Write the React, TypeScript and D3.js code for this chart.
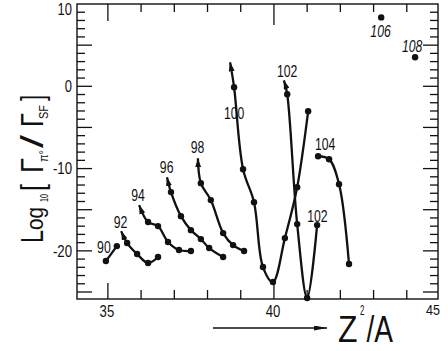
import React from 'react';
import * as d3 from 'd3';

// Z^2/A and log10(Gamma_pi0 / Gamma_SF), one pair per isotope
const n90z = [34.94, 35.27];
const n90r = [-21.24, -19.42];
const n92z = [35.40, 35.58, 35.88, 36.21, 36.51];
const n92r = [-17.6, -19.05, -20.39, -21.48, -20.75];
const n94z = [35.94, 36.21, 36.51, 36.81, 37.14, 37.5];
const n94r = [-14.44, -16.5, -16.99, -18.93, -19.9, -20.02];
const n96z = [36.78, 36.9, 37.2, 37.5, 37.8, 38.05, 38.47];
const n96r = [-11.04, -12.86, -15.78, -17.48, -18.57, -19.66, -20.75];
const n98z = [37.71, 37.8, 38.1, 38.47, 38.77, 39.1];
const n98r = [-8.74, -11.77, -13.83, -17.84, -19.3, -20.02];
const n100z = [38.68, 38.8, 39.07, 39.4, 39.67, 39.97, 40.33, 40.7, 41.03];
const n100r = [2.91, -0.12, -10.08, -14.08, -21.97, -23.79, -18.45, -12.26, -3.03];
const n102z = [40.3, 40.4, 40.7, 41.0, 41.3];
const n102r = [0.73, -0.97, -16.75, -25.73, -16.87];
const n104z = [41.33, 41.66, 41.96, 42.26];
const n104r = [-8.5, -8.86, -11.89, -21.6];
const n106z = [43.23];
const n106r = [8.37];
const n108z = [44.25];
const n108r = [3.52];

// curves that start with an arrow (first point is the arrow tip, no dot)
const arrowed = ['92', '94', '96', '98', '100', '102'];

// isotope labels and where they sit (data coordinates)
const labelText = ['90', '92', '94', '96', '98', '100', '102', '102', '104', '106', '108'];
const labelZ = [34.88, 35.38, 35.91, 36.77, 37.7, 38.8, 40.4, 41.31, 41.54, 43.21, 44.16];
const labelR = [-20.3, -17.25, -13.97, -10.57, -8.14, -4.0, 1.09, -16.5, -7.78, 5.95, 4.13];

const xTickLabels = ['35', '40', '45'];
const yTickLabels = ['10', '0', '-10', '-20'];

const W = 448;
const H = 351;
const FONT = "'Liberation Sans', Arial, sans-serif";
const INK = '#111';

const x = d3.scaleLinear().domain([34.07, 44.94]).range([77, 438]);
const y = d3.scaleLinear().domain([-25.85, 10]).range([299, 4]);

const series = [
  { name: '90', z: n90z, r: n90r },
  { name: '92', z: n92z, r: n92r },
  { name: '94', z: n94z, r: n94r },
  { name: '96', z: n96z, r: n96r },
  { name: '98', z: n98z, r: n98r },
  { name: '100', z: n100z, r: n100r },
  { name: '102', z: n102z, r: n102r },
  { name: '104', z: n104z, r: n104r },
  { name: '106', z: n106z, r: n106r },
  { name: '108', z: n108z, r: n108r },
];

const line = d3.line<[number, number]>()
  .x(d => x(d[0]))
  .y(d => y(d[1]))
  .curve(d3.curveCatmullRom.alpha(0.5));

// condensed look: squeeze text to a given width
const numWidth = (s: string, digit: number) =>
  s.split('').reduce((a, c) => a + (c === '-' ? digit * 0.65 : digit), 0);

function T(props: any) {
  const { len, size, children, ...rest } = props;
  return (
    <text fontFamily={FONT} fontSize={size} fill={INK} textLength={len}
      lengthAdjust="spacingAndGlyphs" {...rest}>{children}</text>
  );
}

export default function App() {
  const [x0, x1] = x.range();
  const [y0, y1] = y.range(); // y0 bottom, y1 top

  const xTicks = d3.range(35, 45);
  const yTicks = d3.range(-25, 10);

  return (
    <svg width={W} height={H} style={{ position: 'absolute', left: 0, top: 0, background: '#fff' }}>
      <defs>
        <marker id="arr" viewBox="0 0 10 10" refX="10" refY="5" markerUnits="userSpaceOnUse"
          markerWidth="9" markerHeight="6" preserveAspectRatio="none" orient="auto-start-reverse">
          <path d="M0,0 L10,5 L0,10 z" fill={INK} />
        </marker>
        <marker id="arrx" viewBox="0 0 10 10" refX="10" refY="5" markerUnits="userSpaceOnUse"
          markerWidth="13" markerHeight="5" preserveAspectRatio="none" orient="auto">
          <path d="M0,0 L10,5 L0,10 z" fill={INK} />
        </marker>
      </defs>

      {/* frame */}
      <rect x={x0} y={y1} width={x1 - x0} height={y0 - y1} fill="none" stroke={INK} strokeWidth={1.4} />

      {/* x ticks bottom and top */}
      {xTicks.map(t => {
        const long = t % 5 === 0;
        return (
          <g key={'xt' + t} stroke={INK} strokeWidth={1.3}>
            <line x1={x(t)} x2={x(t)} y1={y0} y2={y0 - (long ? 16 : 9)} />
            <line x1={x(t)} x2={x(t)} y1={y1} y2={y1 + (t === 40 ? 21 : t === 35 ? 17 : 8)} />
          </g>
        );
      })}

      {/* y ticks left and right */}
      {yTicks.map(t => {
        const long = t % 5 === 0;
        return (
          <g key={'yt' + t} stroke={INK} strokeWidth={1.3}>
            <line x1={x0} x2={x0 + (long ? 15 : 8)} y1={y(t)} y2={y(t)} />
            <line x1={x1} x2={x1 - (long ? 15 : 8)} y1={y(t)} y2={y(t)} />
          </g>
        );
      })}

      {/* tick labels */}
      {xTickLabels.map((s, i) => {
        const v = +s;
        const last = i === xTickLabels.length - 1;
        return (
          <T key={'xl' + s} x={last ? x1 + 2 : x(v) - 1} y={last ? 315 : 317}
            textAnchor={last ? 'end' : 'middle'} size={last ? 14 : 16}
            len={numWidth(s, last ? 7 : 7.3)}>{s}</T>
        );
      })}
      {yTickLabels.map(s => {
        const v = +s;
        const yy = Math.max(y(v), y1 + 5);
        return (
          <T key={'yl' + s} x={72} y={yy} dy="0.36em" textAnchor="end" size={16}
            len={numWidth(s, 7.2)}>{s}</T>
        );
      })}

      {/* curves */}
      {series.filter(s => s.z.length > 1).map(s => {
        const pts = s.z.map((z, i) => [z, s.r[i]] as [number, number]);
        return (
          <path key={'c' + s.name} d={line(pts) || ''} fill="none" stroke={INK} strokeWidth={2.3}
            strokeLinejoin="round" markerStart={arrowed.includes(s.name) ? 'url(#arr)' : undefined} />
        );
      })}

      {/* dots */}
      {series.map(s => s.z.map((z, i) => {
        if (i === 0 && arrowed.includes(s.name)) return null;
        return <circle key={'d' + s.name + i} cx={x(z)} cy={y(s.r[i])} r={3.2} fill={INK} />;
      }))}

      {/* isotope labels */}
      {labelText.map((s, i) => (
        <T key={'lab' + i} x={x(labelZ[i])} y={y(labelR[i])} textAnchor="middle" size={16}
          len={numWidth(s, 6.8)}
          fontStyle={s === '106' || s === '108' ? 'italic' : 'normal'}>{s}</T>
      ))}

      {/* y axis title, laid out along the rotated baseline */}
      <g transform="translate(43,244) rotate(-90)">
        <T x={1} y={0} size={32} len={13}>L</T>
        <T x={14} y={0} size={23} len={23}>og</T>
        <T x={42} y={5} size={11} len={8}>10</T>
        <T x={53} y={0} size={32} len={7}>[</T>
        <T x={71} y={0} size={32} len={15}>Γ</T>
        <T x={82} y={5} size={12} len={12}>π°</T>
        <T x={96} y={0} size={32} len={13}>/</T>
        <T x={117} y={0} size={32} len={14}>Γ</T>
        <T x={125} y={5} size={12} len={14}>SF</T>
        <T x={143} y={0} size={32} len={6}>]</T>
      </g>

      {/* x axis title with arrow */}
      <line x1={213} x2={327} y1={328} y2={328} stroke={INK} strokeWidth={1.3} markerEnd="url(#arrx)" />
      <T x={338} y={342} size={37} len={19.5}>Z</T>
      <T x={360} y={314.5} size={14} len={4.4}>2</T>
      <T x={366.5} y={342} size={37} len={26.5}>/A</T>
    </svg>
  );
}
